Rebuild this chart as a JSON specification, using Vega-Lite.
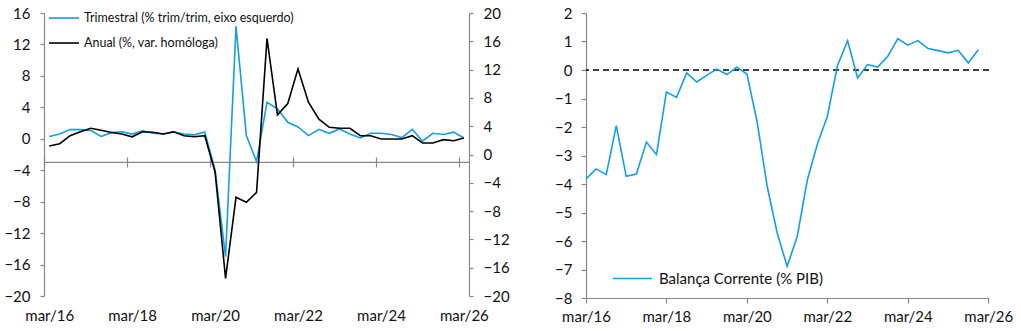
{
  "$schema": "https://vega.github.io/schema/vega-lite/v6.json",
  "background": "white",
  "padding": {"left": 3, "top": 2, "right": 5, "bottom": 5},
  "config": {
    "font": "Lato",
    "view": {"stroke": null},
    "axis": {"grid": false, "labelFont": "Lato", "labelFontSize": 15, "labelColor": "#111", "domainColor": "#888", "tickColor": "#888", "title": null, "domainWidth": 1.2, "tickWidth": 1.2, "labelOverlap": false},
    "legend": {"labelFont": "Lato", "labelColor": "#111", "title": null, "padding": 0, "labelLimit": 0}
  },
  "spacing": 117,
  "bounds": "flush",
  "resolve": {"scale": {"color": "independent"}},
  "hconcat": [
    {
      "width": 425,
      "height": 283,
      "data": {"values": [
        {"date": "2016-03-01", "tri": 0.3, "anual": 1.2},
        {"date": "2016-06-01", "tri": 0.62, "anual": 1.52},
        {"date": "2016-09-01", "tri": 1.17, "anual": 2.66},
        {"date": "2016-12-01", "tri": 1.16, "anual": 3.21},
        {"date": "2017-03-01", "tri": 1.05, "anual": 3.7},
        {"date": "2017-06-01", "tri": 0.3, "anual": 3.42},
        {"date": "2017-09-01", "tri": 0.78, "anual": 3.1},
        {"date": "2017-12-01", "tri": 0.9, "anual": 2.9},
        {"date": "2018-03-01", "tri": 0.6, "anual": 2.5},
        {"date": "2018-06-01", "tri": 1.0, "anual": 3.22},
        {"date": "2018-09-01", "tri": 0.7, "anual": 3.14},
        {"date": "2018-12-01", "tri": 0.6, "anual": 2.9},
        {"date": "2019-03-01", "tri": 0.9, "anual": 3.2},
        {"date": "2019-06-01", "tri": 0.6, "anual": 2.66},
        {"date": "2019-09-01", "tri": 0.5, "anual": 2.5},
        {"date": "2019-12-01", "tri": 0.85, "anual": 2.66},
        {"date": "2020-03-01", "tri": -4.0, "anual": -2.5},
        {"date": "2020-06-01", "tri": -15.0, "anual": -17.5},
        {"date": "2020-09-01", "tri": 14.3, "anual": -6.05},
        {"date": "2020-12-01", "tri": 0.4, "anual": -6.76},
        {"date": "2021-03-01", "tri": -2.9, "anual": -5.35},
        {"date": "2021-06-01", "tri": 4.65, "anual": 16.4},
        {"date": "2021-09-01", "tri": 3.8, "anual": 5.6},
        {"date": "2021-12-01", "tri": 2.1, "anual": 7.2},
        {"date": "2022-03-01", "tri": 1.5, "anual": 12.1},
        {"date": "2022-06-01", "tri": 0.4, "anual": 7.4},
        {"date": "2022-09-01", "tri": 1.2, "anual": 5.0},
        {"date": "2022-12-01", "tri": 0.7, "anual": 3.84},
        {"date": "2023-03-01", "tri": 1.25, "anual": 3.7},
        {"date": "2023-06-01", "tri": 0.6, "anual": 3.7},
        {"date": "2023-09-01", "tri": 0.1, "anual": 2.66},
        {"date": "2023-12-01", "tri": 0.7, "anual": 2.66},
        {"date": "2024-03-01", "tri": 0.7, "anual": 2.2},
        {"date": "2024-06-01", "tri": 0.55, "anual": 2.2},
        {"date": "2024-09-01", "tri": 0.15, "anual": 2.2},
        {"date": "2024-12-01", "tri": 1.2, "anual": 2.66},
        {"date": "2025-03-01", "tri": -0.3, "anual": 1.63},
        {"date": "2025-06-01", "tri": 0.7, "anual": 1.63},
        {"date": "2025-09-01", "tri": 0.55, "anual": 2.1},
        {"date": "2025-12-01", "tri": 0.85, "anual": 1.95},
        {"date": "2026-03-01", "tri": 0.1, "anual": 2.33}
      ]},
      "resolve": {"scale": {"y": "independent"}, "axis": {"x": "independent"}},
      "layer": [
        {
          "data": {"values": [{"line": "eixo"}]},
          "mark": {"type": "rule", "color": "#888", "strokeWidth": 1.2},
          "encoding": {
            "y": {"datum": -3, "type": "quantitative", "scale": {"domain": [-20, 16], "nice": false, "zero": false}, "axis": null}
          }
        },
        {
          "mark": {"type": "line", "strokeWidth": 1.6},
          "encoding": {
            "x": {
              "field": "date", "type": "temporal",
              "scale": {"type": "utc", "domain": [{"year": 2016, "month": 1, "date": 15, "utc": true}, {"year": 2026, "month": 4, "date": 15, "utc": true}]},
              "axis": {
                "orient": "bottom",
                "values": [
                  {"year": 2016, "month": 3, "date": 1, "utc": true},
                  {"year": 2018, "month": 3, "date": 1, "utc": true},
                  {"year": 2020, "month": 3, "date": 1, "utc": true},
                  {"year": 2022, "month": 3, "date": 1, "utc": true},
                  {"year": 2024, "month": 3, "date": 1, "utc": true},
                  {"year": 2026, "month": 3, "date": 1, "utc": true}
                ],
                "labelExpr": "'mar/' + utcFormat(datum.value, '%y')",
                "domain": false, "ticks": false, "labelPadding": 12, "labelFlush": false
              }
            },
            "y": {
              "field": "tri", "type": "quantitative",
              "scale": {"domain": [-20, 16], "nice": false, "zero": false},
              "axis": {"orient": "left", "values": [-20, -16, -12, -8, -4, 0, 4, 8, 12, 16], "tickSize": 4, "labelPadding": 10}
            },
            "color": {
              "datum": "Trimestral (% trim/trim, eixo esquerdo)",
              "scale": {"domain": ["Trimestral (% trim/trim, eixo esquerdo)", "Anual (%, var. homóloga)"], "range": ["#12A0E0", "#000000"]},
              "legend": {"orient": "none", "legendX": 4, "legendY": -11, "symbolType": "stroke", "symbolSize": 900, "symbolStrokeWidth": 1.6, "labelFontSize": 12.5, "labelOffset": 4, "rowPadding": 2}
            }
          }
        },
        {
          "mark": {"type": "line", "strokeWidth": 1.6},
          "encoding": {
            "x": {
              "field": "date", "type": "temporal",
              "scale": {"type": "utc", "domain": [{"year": 2016, "month": 1, "date": 15, "utc": true}, {"year": 2026, "month": 4, "date": 15, "utc": true}]},
              "axis": {
                "orient": "bottom",
                "values": [
                  {"year": 2016, "month": 1, "date": 15, "utc": true},
                  {"year": 2018, "month": 1, "date": 15, "utc": true},
                  {"year": 2020, "month": 1, "date": 15, "utc": true},
                  {"year": 2022, "month": 1, "date": 15, "utc": true},
                  {"year": 2024, "month": 1, "date": 15, "utc": true},
                  {"year": 2026, "month": 1, "date": 15, "utc": true}
                ],
                "labels": false, "domain": false, "tickSize": 10, "offset": -139
              }
            },
            "y": {
              "field": "anual", "type": "quantitative",
              "scale": {"domain": [-20, 20], "nice": false, "zero": false},
              "axis": {"orient": "right", "values": [-20, -16, -12, -8, -4, 0, 4, 8, 12, 16, 20], "tickSize": 4, "labelPadding": 10}
            },
            "color": {"datum": "Anual (%, var. homóloga)"}
          }
        }
      ]
    },
    {
      "width": 403,
      "height": 285,
      "data": {"values": [
        {"date": "2016-03-01", "ca": -3.82},
        {"date": "2016-06-01", "ca": -3.47},
        {"date": "2016-09-01", "ca": -3.67},
        {"date": "2016-12-01", "ca": -1.95},
        {"date": "2017-03-01", "ca": -3.73},
        {"date": "2017-06-01", "ca": -3.65},
        {"date": "2017-09-01", "ca": -2.53},
        {"date": "2017-12-01", "ca": -2.97},
        {"date": "2018-03-01", "ca": -0.77},
        {"date": "2018-06-01", "ca": -0.96},
        {"date": "2018-09-01", "ca": -0.1},
        {"date": "2018-12-01", "ca": -0.42},
        {"date": "2019-03-01", "ca": -0.19},
        {"date": "2019-06-01", "ca": 0.03},
        {"date": "2019-09-01", "ca": -0.16},
        {"date": "2019-12-01", "ca": 0.1},
        {"date": "2020-03-01", "ca": -0.14},
        {"date": "2020-06-01", "ca": -1.8},
        {"date": "2020-09-01", "ca": -4.08},
        {"date": "2020-12-01", "ca": -5.72},
        {"date": "2021-03-01", "ca": -6.89},
        {"date": "2021-06-01", "ca": -5.84},
        {"date": "2021-09-01", "ca": -3.85},
        {"date": "2021-12-01", "ca": -2.6},
        {"date": "2022-03-01", "ca": -1.63},
        {"date": "2022-06-01", "ca": 0.15},
        {"date": "2022-09-01", "ca": 1.03},
        {"date": "2022-12-01", "ca": -0.28},
        {"date": "2023-03-01", "ca": 0.19},
        {"date": "2023-06-01", "ca": 0.1},
        {"date": "2023-09-01", "ca": 0.48},
        {"date": "2023-12-01", "ca": 1.1},
        {"date": "2024-03-01", "ca": 0.87},
        {"date": "2024-06-01", "ca": 1.03},
        {"date": "2024-09-01", "ca": 0.75},
        {"date": "2024-12-01", "ca": 0.68},
        {"date": "2025-03-01", "ca": 0.6},
        {"date": "2025-06-01", "ca": 0.69},
        {"date": "2025-09-01", "ca": 0.25},
        {"date": "2025-12-01", "ca": 0.71}
      ]},
      "layer": [
        {
          "data": {"values": [{"line": "zero"}]},
          "mark": {"type": "rule", "color": "#000", "strokeWidth": 1.5, "strokeDash": [6, 4]},
          "encoding": {
            "y": {
              "datum": 0, "type": "quantitative",
              "scale": {"domain": [-8, 2], "nice": false, "zero": false},
              "axis": {"values": [-8, -7, -6, -5, -4, -3, -2, -1, 0, 1, 2], "tickSize": 5, "labelPadding": 9}
            }
          }
        },
        {
          "mark": {"type": "line", "strokeWidth": 1.6},
          "encoding": {
            "x": {
              "field": "date", "type": "temporal",
              "scale": {"type": "utc", "domain": [{"year": 2016, "month": 3, "date": 1, "utc": true}, {"year": 2026, "month": 3, "date": 8, "utc": true}]},
              "axis": {
                "values": [
                  {"year": 2016, "month": 3, "date": 1, "utc": true},
                  {"year": 2018, "month": 3, "date": 1, "utc": true},
                  {"year": 2020, "month": 3, "date": 1, "utc": true},
                  {"year": 2022, "month": 3, "date": 1, "utc": true},
                  {"year": 2024, "month": 3, "date": 1, "utc": true},
                  {"year": 2026, "month": 3, "date": 1, "utc": true}
                ],
                "labelExpr": "'mar/' + utcFormat(datum.value, '%y')",
                "tickSize": 5, "labelPadding": 6, "labelFlush": false
              }
            },
            "y": {
              "field": "ca", "type": "quantitative",
              "scale": {"domain": [-8, 2], "nice": false, "zero": false},
              "axis": {"values": [-8, -7, -6, -5, -4, -3, -2, -1, 0, 1, 2], "tickSize": 5, "labelPadding": 9}
            },
            "color": {
              "datum": "Balança Corrente (% PIB)",
              "scale": {"range": ["#12A0E0"]},
              "legend": {"orient": "none", "legendX": 26, "legendY": 245, "symbolType": "stroke", "symbolSize": 1521, "symbolStrokeWidth": 1.6, "labelFontSize": 15, "labelOffset": 6}
            }
          }
        }
      ]
    }
  ]
}
